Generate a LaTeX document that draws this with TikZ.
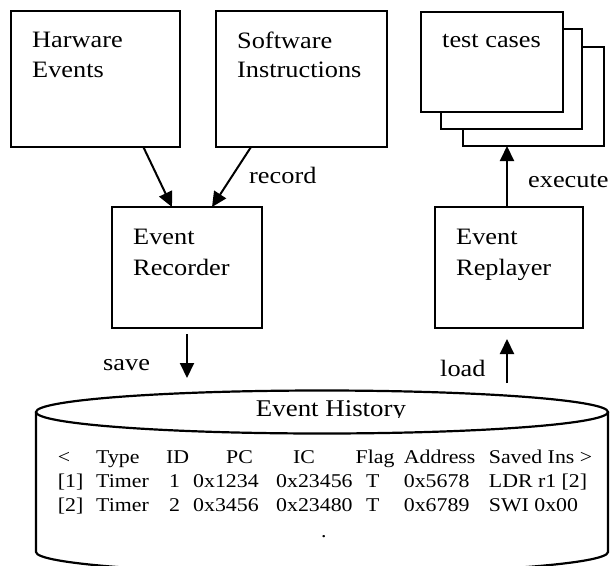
\documentclass[tikz,border=0pt]{standalone}
\usepackage{fontspec}
\setmainfont{Liberation Serif}[FakeStretch=1.12]
\usetikzlibrary{arrows.meta}

\begin{document}
\begin{tikzpicture}[x=1pt,y=-1pt,
  box/.style={draw, line width=2.2pt, fill=white, inner sep=0pt, outer sep=0pt, anchor=north west},
  lbl/.style={inner sep=0pt, anchor=base west, font=\fontsize{23.5}{28}\selectfont},
  tbl/.style={inner sep=0pt, anchor=base west, font=\fontsize{19.5}{24}\selectfont},
  arr/.style={line width=2pt, -{Triangle[length=15pt,width=14pt]}},
]
\useasboundingbox (0,0) rectangle (610,565);

% source boxes
\node[box, minimum width=169.3pt, minimum height=136pt] (hw) at (10.7,11) {};
\node[box, minimum width=171pt, minimum height=136pt] (sw) at (216,11) {};
\node[lbl] (hwa) at (32,47) {Harware};
\node[lbl] (hwb) at (32,77) {Events};
\node[lbl] (swa) at (237,48) {Software};
\node[lbl] (swb) at (237,77) {Instructions};

% stack of test cases
\node[box, minimum width=141pt, minimum height=99pt] (tc3) at (463,47) {};
\node[box, minimum width=141pt, minimum height=100pt] (tc2) at (441,29) {};
\node[box, minimum width=142pt, minimum height=100pt] (tc1) at (421,12) {};
\node[lbl] (tct) at (442,47) {test cases};

% recorder and replayer
\node[box, minimum width=150pt, minimum height=121pt] (rec) at (112,207) {};
\node[box, minimum width=148pt, minimum height=121pt] (rep) at (435,207) {};
\node[lbl] (reca) at (133,244) {Event};
\node[lbl] (recb) at (133,275) {Recorder};
\node[lbl] (repa) at (456,244) {Event};
\node[lbl] (repb) at (456,275) {Replayer};

% connectors
\draw[arr] ([xshift=48pt]hw.south) -- ([xshift=-15pt]rec.north);
\draw[arr] ([xshift=-50.5pt]sw.south) -- ([xshift=25pt]rec.north);
\node[lbl] (recl) at (249,183) {record};
\coordinate (ex1) at ([xshift=-2pt]rep.north);
\draw[arr] (ex1) -- (ex1 |- tc3.south);
\node[lbl] (exl) at (528,187) {execute};
\coordinate (sv1) at (187,334);
\coordinate (sv2) at (187,378);
\draw[arr] (sv1) -- (sv2);
\node[lbl] (svl) at (103,370) {save};
\coordinate (ld1) at (507,383);
\coordinate (ld2) at (507,339);
\draw[arr] (ld1) -- (ld2);
\node[lbl] (ldl) at (440,376) {load};

% event history store
\draw[line width=2.2pt, fill=white] (36,412) -- (36,552)
  arc[start angle=180, end angle=0, x radius=286, y radius=21.5] -- (608,412);
\draw[line width=2.2pt, fill=white] (322,412) ellipse [x radius=286, y radius=21.5];
\begin{scope}
  \clip (0,0) rectangle (610,417);
  \node[inner sep=0pt, anchor=base, font=\fontsize{24}{29}\selectfont] (ht) at (331,416) {Event History};
\end{scope}

\foreach \px/\tx [count=\i] in {57.7/{<}, 96/Type, 166/ID, 226/PC, 293/IC, 355.5/Flag, 403.7/Address, 488.7/{Saved Ins >}}
  \node[tbl] (hd\i) at (\px,463) {\tx};
\foreach \px/\tx [count=\i] in {57.7/{[1]}, 96/Timer, 169/1, 193/0x1234, 276/0x23456, 366/T, 403.7/0x5678, 488.7/{LDR r1 [2]}}
  \node[tbl] (ra\i) at (\px,487) {\tx};
\foreach \px/\tx [count=\i] in {57.7/{[2]}, 96/Timer, 169/2, 193/0x3456, 276/0x23480, 366/T, 403.7/0x6789, 488.7/{SWI 0x00}}
  \node[tbl] (rb\i) at (\px,511) {\tx};
\node[tbl] (dots) at (321,537) {.};
\end{tikzpicture}
\end{document}
